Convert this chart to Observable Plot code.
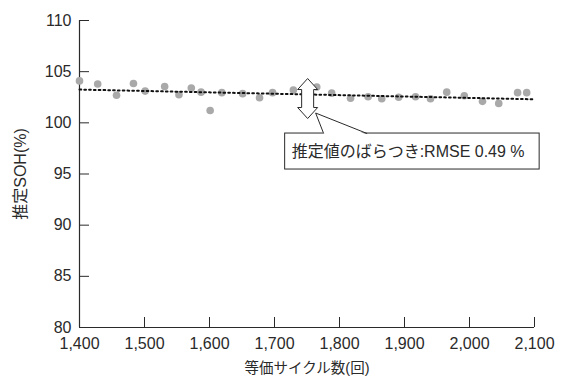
<!DOCTYPE html>
<html>
<head>
<meta charset="utf-8">
<script src="https://cdn.jsdelivr.net/npm/d3@7"></script>
<script src="https://cdn.jsdelivr.net/npm/@observablehq/plot@0.6"></script>
<style>
  html, body { margin: 0; padding: 0; background: #fff; }
</style>
</head>
<body>
<div id="chart"></div>
<script>
// ---- data ----
const cycles = [1400, 1428, 1457, 1483, 1501, 1531, 1553, 1572, 1587, 1601, 1619, 1651, 1677, 1697, 1729,
                1765, 1788, 1817, 1844, 1865, 1891, 1917, 1940, 1965, 1992, 2020, 2045, 2074, 2088];
const soh = [104.1, 103.8, 102.7, 103.85, 103.1, 103.55, 102.75, 103.4, 103.0, 101.2, 102.95, 102.85, 102.45, 102.95, 103.2,
             103.5, 102.9, 102.4, 102.55, 102.35, 102.5, 102.55, 102.35, 103.0, 102.65, 102.1, 101.9, 102.95, 102.95];
const trendX = [1400, 2100];
const trendY = [103.25, 102.3];
const spreadX = [1751];
const spreadLow = [100.43];
const spreadHigh = [104.32];
const calloutText = ["推定値のばらつき:RMSE 0.49 %"];
const xTicks = [1400, 1500, 1600, 1700, 1800, 1900, 2000, 2100];
const yTicks = [80, 85, 90, 95, 100, 105, 110];
const xLabel = "等価サイクル数(回)";
const yLabel = "推定SOH(%)";

const points = cycles.map((c, i) => ({c, v: soh[i]}));
const trend = trendX.map((c, i) => ({c, v: trendY[i]}));
const spread = spreadX.map((c, i) => ({c, v: (spreadLow[i] + spreadHigh[i]) / 2, text: calloutText[i]}));
const xDomain = [xTicks[0], xTicks[xTicks.length - 1]];
const yDomain = [yTicks[0], yTicks[yTicks.length - 1]];

// ---- pixel-space annotation shapes (relative to arrow centre) ----
const arrowSymbol = {
  draw(ctx) {
    const h = 20, head = 11, hw = 10, sw = 6;
    ctx.moveTo(0, -h);
    ctx.lineTo(hw, -h + head);
    ctx.lineTo(sw, -h + head);
    ctx.lineTo(sw, h - head);
    ctx.lineTo(hw, h - head);
    ctx.lineTo(0, h);
    ctx.lineTo(-hw, h - head);
    ctx.lineTo(-sw, h - head);
    ctx.lineTo(-sw, -h + head);
    ctx.lineTo(-hw, -h + head);
    ctx.closePath();
  }
};
const tip = [8, 14.5], baseA = [16, 35], baseB = [59.5, 35];
const pointerFill = {
  draw(ctx) {
    ctx.moveTo(tip[0], tip[1]);
    ctx.lineTo(baseA[0], baseA[1] + 1.2);
    ctx.lineTo(baseB[0], baseB[1] + 1.2);
    ctx.closePath();
  }
};
const pointerLines = {
  draw(ctx) {
    ctx.moveTo(tip[0], tip[1]);
    ctx.lineTo(baseA[0], baseA[1]);
    ctx.moveTo(tip[0], tip[1]);
    ctx.lineTo(baseB[0], baseB[1]);
  }
};

const font = "'Liberation Sans', 'Noto Sans CJK JP', sans-serif";
const ink = "#2a2a2a";

const chart = Plot.plot({
  width: 563,
  height: 378,
  marginLeft: 79,
  marginRight: 29,
  marginTop: 20,
  marginBottom: 51,
  style: {fontFamily: font, background: "#fff", color: ink, overflow: "visible"},
  x: {domain: xDomain},
  y: {domain: yDomain},
  marks: [
    Plot.axisY(yTicks, {tickSize: -10, tickPadding: 18, fontSize: 16, stroke: ink, label: null, tickFormat: d => String(d)}),
    Plot.axisX(xTicks, {tickSize: -10, tickPadding: 20, fontSize: 16, stroke: ink, label: null, tickFormat: d3.format(",")}),
    Plot.ruleX([xDomain[0]], {stroke: ink, strokeWidth: 1.2}),
    Plot.ruleY([yDomain[0]], {stroke: ink, strokeWidth: 1.2}),
    Plot.dot(points, {x: "c", y: "v", r: 3.8, fill: "#a9a9a9", stroke: "none"}),
    Plot.line(trend, {x: "c", y: "v", stroke: "#111", strokeWidth: 2, strokeDasharray: "1.7 3.1"}),
    Plot.dot(spread, {x: "c", y: "v", symbol: arrowSymbol, r: 5, fill: "#fff", stroke: ink, strokeWidth: 1}),
    Plot.rect(spread, {x1: "c", x2: "c", y1: "v", y2: "v",
      insetLeft: -22.5, insetRight: -232, insetTop: 35, insetBottom: -71,
      fill: "#fff", stroke: ink, strokeWidth: 1}),
    Plot.dot(spread, {x: "c", y: "v", symbol: pointerFill, r: 5, fill: "#fff", stroke: "none"}),
    Plot.dot(spread, {x: "c", y: "v", symbol: pointerLines, r: 5, fill: "none", stroke: ink, strokeWidth: 1}),
    Plot.text(spread, {x: "c", y: "v", text: "text", dx: -16, dy: 53, textAnchor: "start", fontSize: 16, fill: ink}),
    Plot.text([yLabel], {x: xDomain[0], y: (yDomain[0] + yDomain[1]) / 2, dx: -59, rotate: -90, fontSize: 16, letterSpacing: 2, fill: ink}),
    Plot.text([xLabel], {x: (xDomain[0] + xDomain[1]) / 2, y: yDomain[0], dy: 41, fontSize: 14.5, letterSpacing: 1, fill: ink})
  ]
});
document.getElementById("chart").appendChild(chart);
</script>
</body>
</html>
